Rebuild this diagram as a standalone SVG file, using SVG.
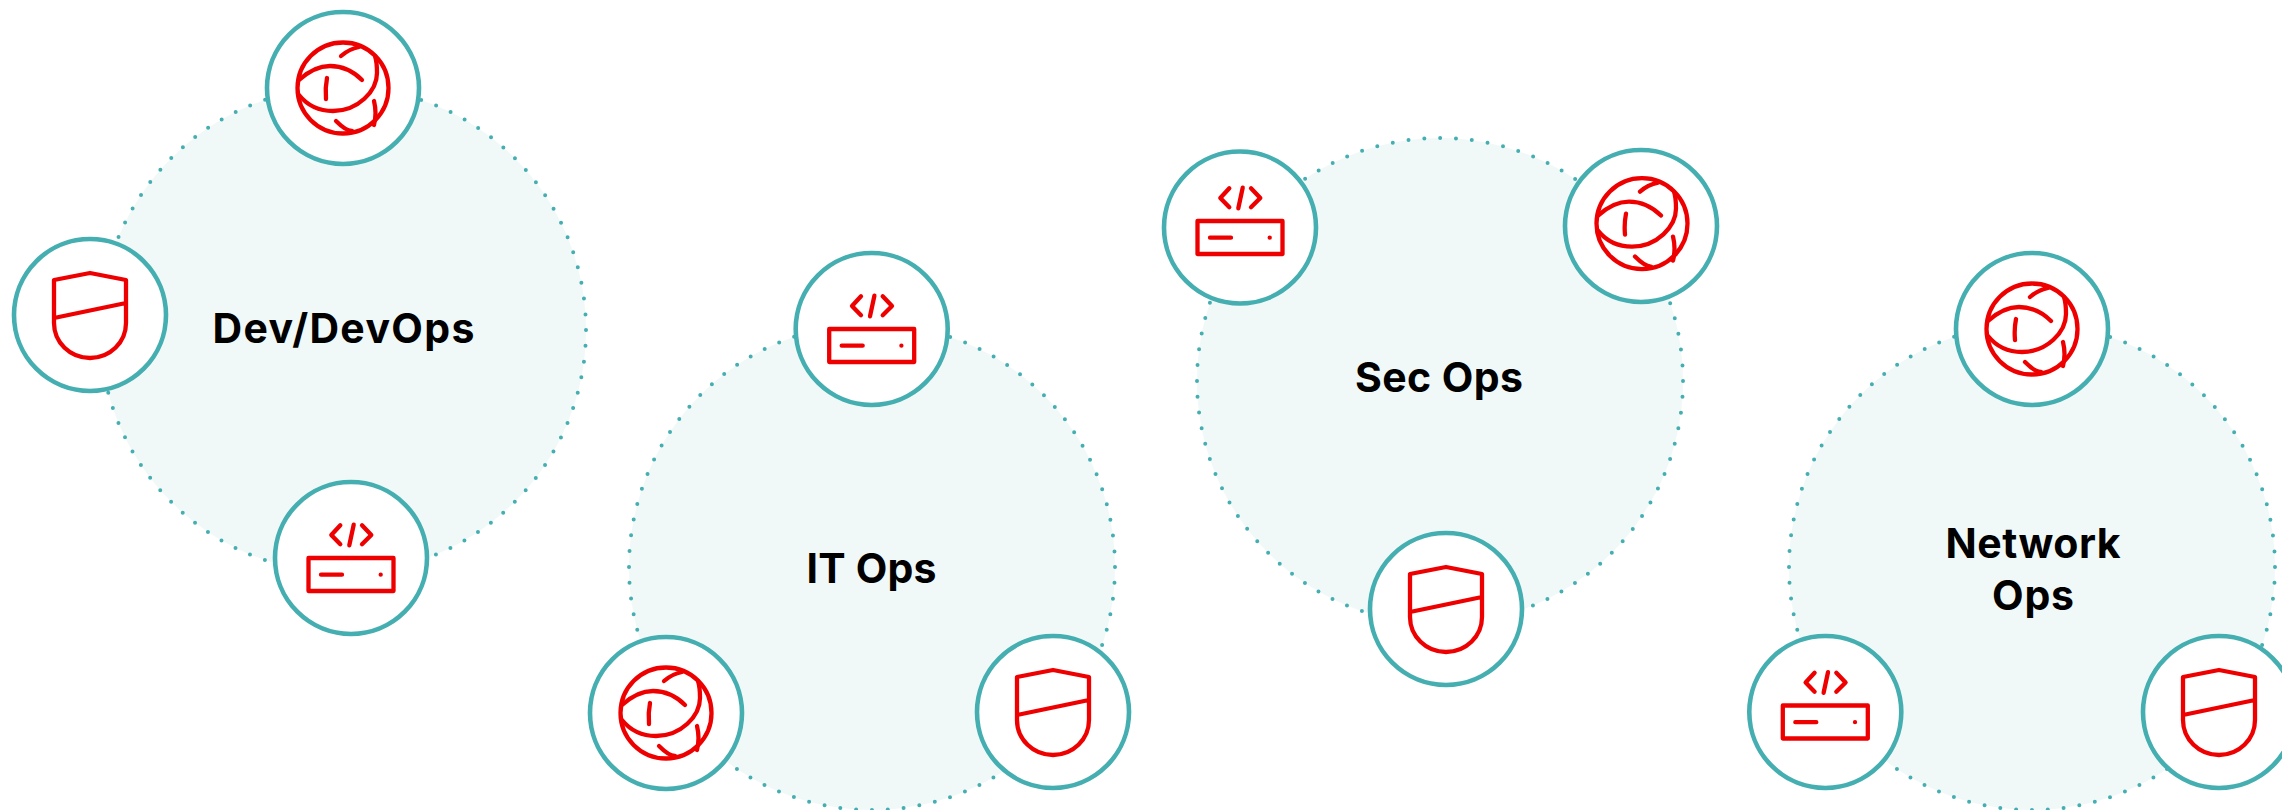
<svg xmlns="http://www.w3.org/2000/svg" width="2282" height="810" viewBox="0 0 2282 810">
<style>
.bg{fill:#f1f9f8;stroke:#45aeb1;stroke-width:4;stroke-linecap:round;stroke-dasharray:0 15.9}
.ring{fill:#fff;stroke:#45aeb1;stroke-width:4.600}
.ic{fill:none;stroke:#e00;stroke-width:4.300;stroke-linecap:round;stroke-linejoin:round}
.lb{font-family:"Inter","Liberation Sans",sans-serif;font-weight:700;font-size:41px;fill:#000;text-anchor:middle}
</style>
<defs>
<g id="ring"><circle class="ring" r="76"/></g>
<g id="globeI" class="ic"><circle r="45.500"/><path d="M-2-32Q6-39 16-41M-44-8C-33-18-22-22-13-22C-1-22 10-17 19-8M-44 7C-36 17-25 23-10 23C15 23 34 3 34-15C34-21 34-26 32-32M-16-10Q-18 0-17 11M31 13Q34 25 31 37M-7 33Q3 43 9 43"/></g>
<g id="shieldI" class="ic"><path d="M0-42L36-35V8A36 35 0 0 1-36 8V-35ZM-36 3L36-12"/></g>
<g id="codeI" class="ic"><rect x="-42.500" y="0" width="85" height="33"/><path d="M-30 16.700H-9M-10.700-32.700L-19.700-23L-10.700-13.700M11-32.700L20.300-23L11-13.700M2.700-33.300L-1.700-12.700M29.700 16.700h.01"/></g>
</defs>
<g id="connectors"/>
<g id="dev"><circle class="bg" cx="343" cy="330" r="243"/>
<g id="dev-globe" transform="translate(343 88)"><use href="#ring"/><use href="#globeI"/></g>
<g id="dev-shield" transform="translate(90 315)"><use href="#ring"/><use href="#shieldI"/></g>
<g id="dev-code" transform="translate(351 558)"><use href="#ring"/><use href="#codeI"/></g>
<text class="lb" x="343.500" y="343" textLength="262">Dev/DevOps</text></g>
<g id="it"><circle class="bg" cx="872" cy="567" r="243"/>
<g id="it-code" transform="translate(871.700 329)"><use href="#ring"/><use href="#codeI"/></g>
<g id="it-globe" transform="translate(666 713)"><use href="#ring"/><use href="#globeI"/></g>
<g id="it-shield" transform="translate(1053 712)"><use href="#ring"/><use href="#shieldI"/></g>
<text class="lb" x="871.500" y="583" textLength="130">IT Ops</text></g>
<g id="sec"><circle class="bg" cx="1440" cy="381" r="243"/>
<g id="sec-code" transform="translate(1240 227.500)"><use href="#ring"/><use href="#codeI" y="-6.500"/></g>
<g id="sec-globe" transform="translate(1641 226)"><use href="#ring"/><use href="#globeI" x="1" y="-2.400"/></g>
<g id="sec-shield" transform="translate(1446 609)"><use href="#ring"/><use href="#shieldI"/></g>
<text class="lb" x="1439" y="391.700" textLength="168">Sec Ops</text></g>
<g id="network"><circle class="bg" cx="2032" cy="567" r="243"/>
<g id="net-globe" transform="translate(2032 329)"><use href="#ring"/><use href="#globeI"/></g>
<g id="net-code" transform="translate(1825.300 712)"><use href="#ring"/><use href="#codeI" y="-6.500"/></g>
<g id="net-shield" transform="translate(2219 712)"><use href="#ring"/><use href="#shieldI"/></g>
<text class="lb" x="2033" y="557.700" textLength="175">Network</text><text class="lb" x="2033" y="609.500" textLength="82">Ops</text></g>
</svg>
